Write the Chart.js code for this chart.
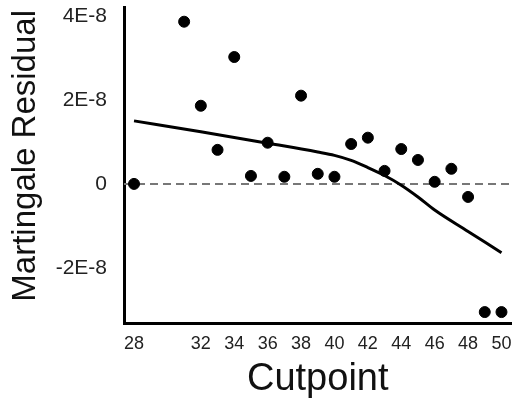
<!DOCTYPE html>
<html lang="en">
<head>
    <meta charset="UTF-8">
    <title>Martingale Residual vs Cutpoint</title>
    <script src="https://cdn.jsdelivr.net/npm/chart.js"></script>
    <style>
        body { margin: 0; background: #fff; }
        #wrap { width: 518px; height: 404px; }
    </style>
</head>
<body>
    <div id="wrap"><canvas id="residChart" width="518" height="404"></canvas></div>
    <script>
        // residuals per cutpoint (units of 1E-8)
        const cutpoints = [28, 31, 32, 33, 34, 35, 36, 37, 38, 39, 40, 41, 42, 43, 44, 45, 46, 47, 48, 49, 50];
        const residuals = [0, 3.86, 1.86, 0.81, 3.02, 0.19, 0.98, 0.17, 2.10, 0.24, 0.17, 0.95, 1.10, 0.31, 0.83, 0.57, 0.05, 0.36, -0.31, -3.05, -3.05];
        // smoothed trend
        const fitX = [28, 32, 36, 39, 40, 41, 42, 43, 44, 45, 46, 48, 50];
        const fitY = [1.50, 1.24, 0.97, 0.76, 0.68, 0.56, 0.39, 0.20, -0.03, -0.31, -0.62, -1.13, -1.64];
        const xTicks = [28, 32, 34, 36, 38, 40, 42, 44, 46, 48, 50];
        const yTicks = [-2, 0, 2, 4];
        const scaleE = 1e-8;

        const font = '"Liberation Sans", Arial, sans-serif';
        const ctx = document.getElementById('residChart').getContext('2d');

        // keep the plot box fixed, no extra room for edge labels
        function noEdgePad(s) {
            s.paddingTop = 0;
            s.paddingBottom = 0;
            s.paddingLeft = 0;
            s.paddingRight = 0;
        }

        new Chart(ctx, {
            type: 'scatter',
            data: {
                datasets: [
                    {
                        label: 'Residual',
                        data: cutpoints.map((c, i) => ({ x: c, y: residuals[i] * scaleE })),
                        backgroundColor: '#000',
                        borderColor: '#000',
                        pointRadius: 5.5,
                        pointHoverRadius: 5.5
                    },
                    {
                        label: 'Trend',
                        data: fitX.map((c, i) => ({ x: c, y: fitY[i] * scaleE })),
                        showLine: true,
                        borderColor: '#000',
                        borderWidth: 3,
                        pointRadius: 0,
                        cubicInterpolationMode: 'monotone'
                    },
                    {
                        label: 'Zero',
                        data: [{ x: 27.4, y: 0 }, { x: 50.6, y: 0 }],
                        showLine: true,
                        borderColor: '#777',
                        borderWidth: 2,
                        borderDash: [8, 5],
                        pointRadius: 0
                    }
                ]
            },
            options: {
                responsive: false,
                animation: false,
                layout: { padding: { left: 0, right: 3, top: 7, bottom: 0 } },
                plugins: { legend: { display: false }, tooltip: { enabled: false } },
                scales: {
                    x: {
                        type: 'linear',
                        min: 27.4,
                        max: 50.6,
                        afterBuildTicks: s => { s.ticks = xTicks.map(v => ({ value: v })); },
                        afterFit: s => { s.height = 81; noEdgePad(s); },
                        grid: { display: false, drawTicks: false },
                        border: { display: true, color: '#000', width: 3 },
                        ticks: { color: '#222', font: { family: font, size: 18 }, padding: 10, maxRotation: 0, autoSkip: false },
                        title: { display: true, text: 'Cutpoint', color: '#111', font: { family: font, size: 38 }, padding: { top: 0, bottom: 2 } }
                    },
                    y: {
                        min: -3.31e-8,
                        max: 4.21e-8,
                        afterBuildTicks: s => { s.ticks = yTicks.map(v => ({ value: v * scaleE })); },
                        afterFit: s => { s.width = 124; noEdgePad(s); },
                        grid: { display: false, drawTicks: false },
                        border: { display: true, color: '#000', width: 3 },
                        ticks: {
                            color: '#222',
                            font: { family: font, size: 21 },
                            padding: 17,
                            callback: v => {
                                const n = Math.round(v / scaleE);
                                return n === 0 ? '0' : n + 'E-8';
                            }
                        },
                        title: { display: true, text: '  Martingale Residual', color: '#111', font: { family: font, size: 33 }, padding: { top: 6, bottom: 0 } }
                    }
                }
            }
        });
    </script>
</body>
</html>
